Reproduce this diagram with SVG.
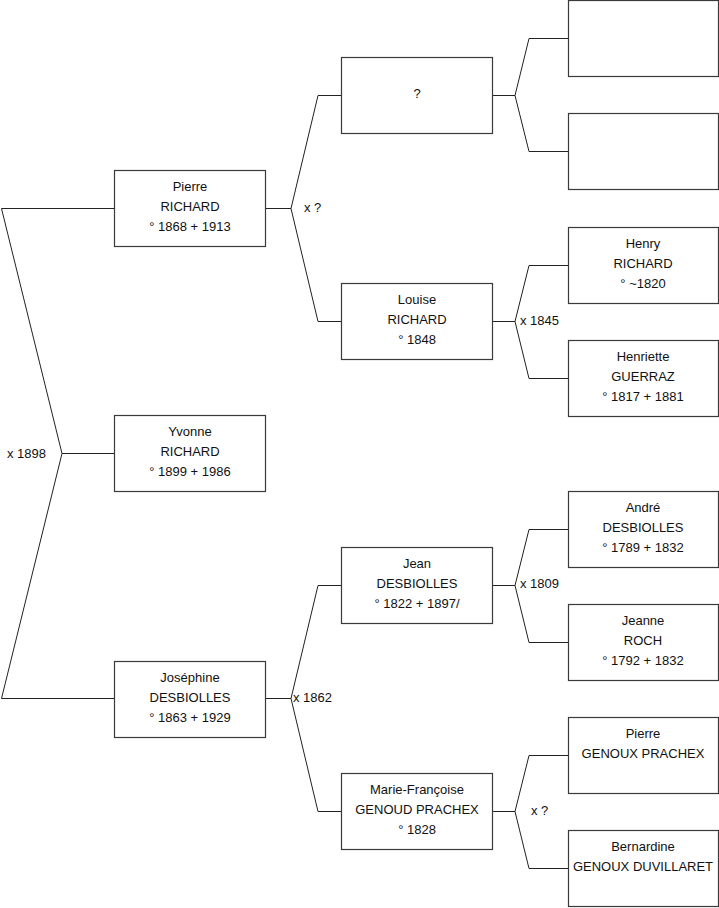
<svg xmlns="http://www.w3.org/2000/svg" width="719" height="908" viewBox="0 0 719 908">
<style>
.box{fill:#fff;stroke:#3a3a3a;stroke-width:1.2}
.t{font-family:"Liberation Sans",Arial,sans-serif;font-size:13px;fill:#111;text-anchor:middle}
.l{font-family:"Liberation Sans",Arial,sans-serif;font-size:13px;fill:#111}
.c{fill:none;stroke:#222;stroke-width:1}
</style>
<rect width="719" height="908" fill="#fff"/>
<g id="connectors">
<polyline class="c" points="114,208.5 1.5,208.5 62,453.5 1.5,698.5 114,698.5"/>
<line class="c" x1="62" y1="453.5" x2="114" y2="453.5"/>
<polyline class="c" points="341,95.5 318,95.5 291,208.5 318,321.5 341,321.5"/>
<line class="c" x1="265" y1="208.5" x2="291" y2="208.5"/>
<polyline class="c" points="341,585.5 318,585.5 291,698.5 318,811.5 341,811.5"/>
<line class="c" x1="265" y1="698.5" x2="291" y2="698.5"/>
<polyline class="c" points="568,38.5 529,38.5 515,95.5 529,151.5 568,151.5"/>
<line class="c" x1="492" y1="95.5" x2="515" y2="95.5"/>
<polyline class="c" points="568,265.5 529,265.5 515,321.5 529,378.5 568,378.5"/>
<line class="c" x1="492" y1="321.5" x2="515" y2="321.5"/>
<polyline class="c" points="568,529.5 529,529.5 515,585.5 529,642.5 568,642.5"/>
<line class="c" x1="492" y1="585.5" x2="515" y2="585.5"/>
<polyline class="c" points="568,755.5 529,755.5 515,811.5 529,868.5 568,868.5"/>
<line class="c" x1="492" y1="811.5" x2="515" y2="811.5"/>
<text class="l" x="7" y="458">x 1898</text>
<text class="l" x="304" y="212">x ?</text>
<text class="l" x="293" y="702">x 1862</text>
<text class="l" x="520" y="325">x 1845</text>
<text class="l" x="520" y="588">x 1809</text>
<text class="l" x="531" y="815">x ?</text>
</g>
<g id="pierre-richard"><rect class="box" x="114.5" y="170.5" width="151" height="76"/><text class="t" x="190" y="191">Pierre</text><text class="t" x="190" y="211">RICHARD</text><text class="t" x="190" y="231">° 1868 + 1913</text></g>
<g id="yvonne-richard"><rect class="box" x="114.5" y="415.5" width="151" height="76"/><text class="t" x="190" y="436">Yvonne</text><text class="t" x="190" y="456">RICHARD</text><text class="t" x="190" y="476">° 1899 + 1986</text></g>
<g id="josephine-desbiolles"><rect class="box" x="114.5" y="661.5" width="151" height="76"/><text class="t" x="190" y="682">Joséphine</text><text class="t" x="190" y="702">DESBIOLLES</text><text class="t" x="190" y="722">° 1863 + 1929</text></g>
<g id="unknown"><rect class="box" x="341.5" y="57.5" width="151" height="76"/><text class="t" x="417" y="98">?</text></g>
<g id="louise-richard"><rect class="box" x="341.5" y="283.5" width="151" height="76"/><text class="t" x="417" y="304">Louise</text><text class="t" x="417" y="324">RICHARD</text><text class="t" x="417" y="344">° 1848</text></g>
<g id="jean-desbiolles"><rect class="box" x="341.5" y="547.5" width="151" height="76"/><text class="t" x="417" y="568">Jean</text><text class="t" x="417" y="588">DESBIOLLES</text><text class="t" x="417" y="608">° 1822 + 1897/</text></g>
<g id="marie-francoise"><rect class="box" x="341.5" y="773.5" width="151" height="76"/><text class="t" x="417" y="794">Marie-Françoise</text><text class="t" x="417" y="814">GENOUD PRACHEX</text><text class="t" x="417" y="834">° 1828</text></g>
<g id="empty-1"><rect class="box" x="568.5" y="0.5" width="150" height="76"/></g>
<g id="empty-2"><rect class="box" x="568.5" y="113.5" width="150" height="76"/></g>
<g id="henry-richard"><rect class="box" x="568.5" y="227.5" width="150" height="76"/><text class="t" x="643" y="248">Henry</text><text class="t" x="643" y="268">RICHARD</text><text class="t" x="643" y="288">° ~1820</text></g>
<g id="henriette-guerraz"><rect class="box" x="568.5" y="340.5" width="150" height="76"/><text class="t" x="643" y="361">Henriette</text><text class="t" x="643" y="381">GUERRAZ</text><text class="t" x="643" y="401">° 1817 + 1881</text></g>
<g id="andre-desbiolles"><rect class="box" x="568.5" y="491.5" width="150" height="76"/><text class="t" x="643" y="512">André</text><text class="t" x="643" y="532">DESBIOLLES</text><text class="t" x="643" y="552">° 1789 + 1832</text></g>
<g id="jeanne-roch"><rect class="box" x="568.5" y="604.5" width="150" height="76"/><text class="t" x="643" y="625">Jeanne</text><text class="t" x="643" y="645">ROCH</text><text class="t" x="643" y="665">° 1792 + 1832</text></g>
<g id="pierre-genoux"><rect class="box" x="568.5" y="717.5" width="150" height="76"/><text class="t" x="643" y="738">Pierre</text><text class="t" x="643" y="758">GENOUX PRACHEX</text></g>
<g id="bernardine-genoux"><rect class="box" x="568.5" y="830.5" width="150" height="76"/><text class="t" x="643" y="851">Bernardine</text><text class="t" x="643" y="871">GENOUX DUVILLARET</text></g>
</svg>
